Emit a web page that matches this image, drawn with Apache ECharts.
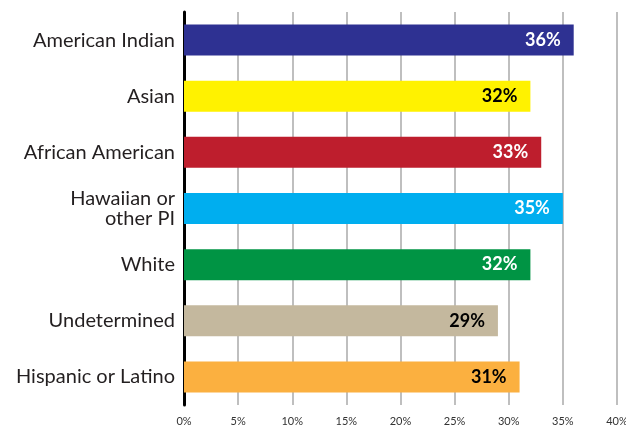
<!DOCTYPE html>
<html>
<head>
<meta charset="utf-8">
<script src="https://cdn.jsdelivr.net/npm/echarts@6/dist/echarts.min.js"></script>
<style>html,body{margin:0;padding:0;background:#fff}#c{width:626px;height:426px}</style>
</head>
<body>
<div id="c"></div>
<script>
const categories = ["American Indian", "Asian", "African American", "Hawaiian or\nother PI", "White", "Undetermined", "Hispanic or Latino"];
const values = [36, 32, 33, 35, 32, 29, 31];
const colors = ["#2e3192", "#fff200", "#be1e2d", "#00aeef", "#009444", "#c4b89e", "#fbb040"];
const labelColors = ["#ffffff", "#000000", "#ffffff", "#ffffff", "#ffffff", "#000000", "#000000"];
const xTicks = { min: 0, max: 40, interval: 5 };

const chart = echarts.init(document.getElementById('c'));
chart.setOption({
  animation: false,
  grid: { left: 184, right: 9, top: 12, bottom: 21, containLabel: false, outerBoundsMode: 'none' },
  xAxis: {
    type: 'value', min: xTicks.min, max: xTicks.max, interval: xTicks.interval,
    axisLine: { show: false }, axisTick: { show: false },
    axisLabel: { formatter: '{value}%', fontSize: 11, color: '#333', margin: 11, fontFamily: 'Lato' },
    splitLine: { show: true, lineStyle: { color: '#aaaaaa', width: 1.5 } }
  },
  yAxis: {
    type: 'category', data: categories, inverse: true,
    axisLine: { show: true, lineStyle: { color: '#000', width: 3 } },
    axisTick: { show: false },
    axisLabel: { fontSize: 20, color: '#231f20', margin: 9, fontFamily: 'Lato', lineHeight: 20, align: 'right' }
  },
  series: [{
    type: 'bar', barWidth: 31,
    data: values.map((v, i) => ({
      value: v,
      itemStyle: { color: colors[i] },
      label: { color: labelColors[i] }
    })),
    label: {
      show: true, position: 'insideRight', distance: 13,
      formatter: '{c}%', fontSize: 18, fontWeight: 'bold', fontFamily: 'Lato'
    }
  }]
});
</script>
</body>
</html>
